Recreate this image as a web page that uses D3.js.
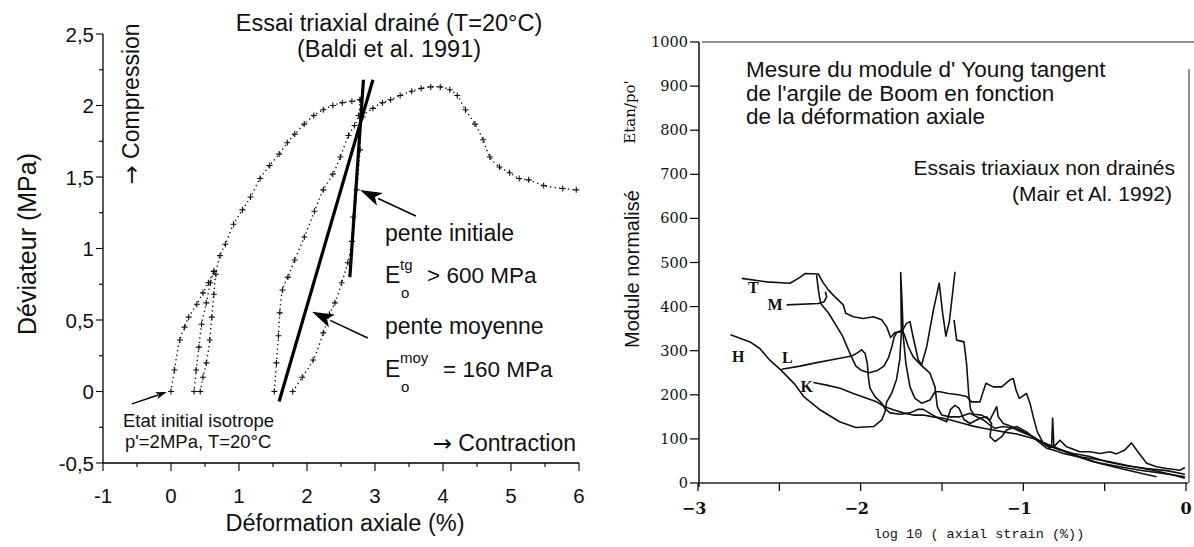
<!DOCTYPE html>
<html><head><meta charset="utf-8">
<script src="https://cdn.jsdelivr.net/npm/d3@7"></script>
<style>body{margin:0;background:#fff}svg{display:block}</style>
</head><body>
<svg id="c" width="1194" height="547"></svg>
<script>
// ================= LEFT PANEL DATA (déformation axiale %, déviateur MPa) =================
const leftXTicks = [-1, 0, 1, 2, 3, 4, 5, 6];
const leftYTicks = [-0.5, 0, 0.5, 1, 1.5, 2, 2.5];
const leftYTickLabels = ["-0,5", "0", "0,5", "1", "1,5", "2", "2,5"];
const loadA = [[0,0],[0.05,0.15],[0.13,0.36],[0.2,0.45],[0.26,0.52],[0.38,0.61],[0.47,0.69],[0.55,0.76],[0.63,0.84]];
const unloadA = [[0.63,0.84],[0.58,0.76],[0.52,0.62],[0.45,0.47],[0.41,0.31],[0.37,0.15],[0.34,0]];
const reloadA = [[0.43,0],[0.47,0.1],[0.52,0.2],[0.57,0.36],[0.6,0.52],[0.63,0.68],[0.66,0.82],[0.72,0.95],[0.8,1.03],[0.92,1.17],[1.05,1.27],[1.17,1.36],[1.31,1.49],[1.45,1.58],[1.59,1.66],[1.71,1.74],[1.82,1.8],[1.96,1.87],[2.1,1.93],[2.24,1.97],[2.38,2.0],[2.52,2.02],[2.66,2.03],[2.78,2.04]];
const unloadB = [[2.78,2.04],[2.76,1.93],[2.7,1.86],[2.61,1.79],[2.49,1.64],[2.38,1.52],[2.24,1.41],[2.11,1.26],[1.96,1.08],[1.82,0.92],[1.72,0.8],[1.64,0.71],[1.6,0.55],[1.58,0.39],[1.55,0.2],[1.52,0]];
const reloadB = [[1.79,0],[1.93,0.1],[2.09,0.22],[2.24,0.41],[2.33,0.54],[2.41,0.62],[2.51,0.76],[2.6,0.9],[2.66,1.05],[2.68,1.22],[2.73,1.41],[2.78,1.69],[2.82,1.92],[2.97,1.98],[3.11,2.02],[3.23,2.04],[3.37,2.07],[3.54,2.1],[3.68,2.12],[3.82,2.13],[3.96,2.13],[4.1,2.11],[4.21,2.07],[4.33,1.97],[4.47,1.87],[4.59,1.76],[4.69,1.64],[4.83,1.57],[4.98,1.53],[5.12,1.49],[5.26,1.48],[5.48,1.44],[5.76,1.42],[5.96,1.41]];
const slopeMoy = [[1.59,-0.07],[2.97,2.18]];
const slopeInit = [[2.63,0.80],[2.83,2.18]];
// arrows [tail, head] in data units
const arrowInit = [[3.60,1.227],[2.78,1.409]];
const arrowMoy = [[2.894,0.374],[2.074,0.557]];
const arrowEtat = [[-0.574,-0.087],[-0.063,-0.004]];

// ================= RIGHT PANEL DATA (log10 axial strain, Etan/p0') =================
const rightXTicks = [-3, -2, -1, 0];
const rightXMinor = [-2.5, -1.5, -0.5];
const rightYTicks = [0,100,200,300,400,500,600,700,800,900,1000];
const curveH = [[-2.80,336],[-2.68,320],[-2.62,305],[-2.56,279],[-2.49,256],[-2.41,226],[-2.35,196],[-2.25,166],[-2.13,139],[-2.03,126],[-1.92,128],[-1.87,143],[-1.85,162],[-1.84,184],[-1.81,203],[-1.78,234],[-1.76,279],[-1.75,339],[-1.752,415],[-1.754,477],[-1.746,415],[-1.738,332],[-1.722,271],[-1.697,218],[-1.666,192],[-1.625,181],[-1.574,188],[-1.543,207],[-1.512,207],[-1.461,203],[-1.400,200],[-1.349,196],[-1.318,184],[-1.267,184],[-1.230,226],[-1.185,218],[-1.133,218],[-1.082,234],[-1.062,237],[-1.045,211],[-1.025,192],[-0.980,203],[-0.959,181],[-0.939,150],[-0.914,116],[-0.877,90],[-0.836,79],[-0.826,82],[-0.820,147],[-0.812,82],[-0.775,97],[-0.734,82],[-0.652,71],[-0.591,71],[-0.529,67],[-0.468,71],[-0.427,66],[-0.376,75],[-0.335,91],[-0.304,75],[-0.242,45],[-0.181,37],[-0.119,33],[-0.037,29],[-0.007,35]];
const curveT = [[-2.731,464],[-2.578,456],[-2.435,453],[-2.383,464],[-2.342,475],[-2.260,474],[-2.234,456],[-2.199,438],[-2.158,422],[-2.107,404],[-2.092,385],[-2.045,377],[-1.984,373],[-1.922,377],[-1.871,370],[-1.840,354],[-1.816,330],[-1.789,341],[-1.748,343],[-1.718,362],[-1.697,366],[-1.677,330],[-1.646,279],[-1.625,268],[-1.594,309],[-1.553,392],[-1.517,453],[-1.496,385],[-1.476,333],[-1.455,366],[-1.435,430],[-1.420,479]];
const curveR = [[-1.426,370],[-1.410,324],[-1.365,320],[-1.349,271],[-1.336,203],[-1.324,166],[-1.304,156],[-1.256,154],[-1.205,143],[-1.174,166],[-1.164,173],[-1.154,150],[-1.123,135],[-1.072,128],[-1.021,120],[-0.959,109],[-0.898,94],[-0.816,82],[-0.734,71],[-0.631,56],[-0.529,45],[-0.406,37],[-0.283,29],[-0.160,23],[-0.007,14]];
const curveM = [[-2.455,404],[-2.260,407],[-2.225,411],[-2.209,422],[-2.217,434]];
const curveN = [[-2.271,472],[-2.260,438],[-2.246,407],[-2.199,386],[-2.152,358],[-2.111,333],[-2.086,311],[-2.055,285],[-2.029,265],[-1.994,255],[-1.947,250],[-1.898,255],[-1.857,265],[-1.828,285],[-1.808,309],[-1.795,330],[-1.779,341],[-1.758,345],[-1.734,339],[-1.707,309],[-1.677,286],[-1.631,268],[-1.574,249],[-1.543,218],[-1.529,173],[-1.502,154],[-1.451,150],[-1.390,150],[-1.328,158],[-1.287,150],[-1.246,143],[-1.205,131],[-1.174,124],[-1.123,128],[-1.062,124],[-1.000,114],[-0.939,105],[-0.857,86],[-0.775,75],[-0.693,67],[-0.591,60],[-0.488,48],[-0.365,39],[-0.242,33],[-0.119,28],[-0.007,20]];
const curveL = [[-2.486,258],[-2.373,265],[-2.270,273],[-2.168,280],[-2.055,288],[-2.025,294],[-1.994,302],[-1.973,294],[-1.959,271],[-1.953,241],[-1.943,215],[-1.912,196],[-1.871,181],[-1.851,169],[-1.820,159],[-1.758,156],[-1.697,159],[-1.646,167],[-1.615,167],[-1.574,158],[-1.523,147],[-1.471,139],[-1.447,167],[-1.420,176],[-1.394,169],[-1.365,144],[-1.328,135],[-1.267,147],[-1.226,150],[-1.195,135],[-1.205,105],[-1.174,94],[-1.133,105],[-1.103,120],[-1.041,128],[-0.980,116],[-0.918,97],[-0.857,79],[-0.816,75],[-0.754,67],[-0.672,60],[-0.591,56],[-0.468,48],[-0.324,37],[-0.201,29],[-0.078,18],[-0.007,11]];
const curveK = [[-2.291,228],[-2.209,222],[-2.127,215],[-2.045,203],[-1.963,192],[-1.902,184],[-1.851,173],[-1.799,166],[-1.738,159],[-1.677,154],[-1.615,154],[-1.553,150],[-1.492,147],[-1.430,141],[-1.369,135],[-1.308,129],[-1.246,124],[-1.185,120],[-1.123,116],[-1.041,111],[-0.939,101],[-0.816,82],[-0.693,63],[-0.570,48],[-0.447,37],[-0.324,26],[-0.181,14]];
const curveLabels = [["T",-2.66,444],["M",-2.527,404],["H",-2.752,286],["L",-2.451,285],["K",-2.332,218]];

// ================= DRAWING =================
const svg = d3.select("#c");
const SANS = "'Liberation Sans', Arial, sans-serif";
const SERIF = "'DejaVu Serif', serif";
const ARROWFONT = "'DejaVu Sans', sans-serif";

// ---- left panel ----
const lx = d3.scaleLinear().domain([-1, 6]).range([103, 579]);
const ly = d3.scaleLinear().domain([-0.5, 2.5]).range([463, 34]);
const L = svg.append("g");

L.append("line").attr("x1", lx(-1)).attr("x2", lx(-1)).attr("y1", ly(2.5)).attr("y2", ly(-0.5)).attr("stroke","#000").attr("stroke-width",1.3);
L.append("line").attr("x1", lx(-1)).attr("x2", lx(6)).attr("y1", ly(-0.5)).attr("y2", ly(-0.5)).attr("stroke","#000").attr("stroke-width",1.3);
d3.range(-0.5, 2.51, 0.25).forEach(v => {
  const major = Math.abs(v*2 - Math.round(v*2)) < 1e-6;
  L.append("line").attr("x1", lx(-1)).attr("x2", lx(-1) - (major ? 7 : 4)).attr("y1", ly(v)).attr("y2", ly(v)).attr("stroke","#000").attr("stroke-width",1.1);
});
leftYTicks.forEach((v,i) => {
  L.append("text").attr("x", lx(-1) - 9).attr("y", ly(v)).attr("text-anchor","end").attr("dominant-baseline","central")
   .attr("font-family", SANS).attr("font-size", 20.5).attr("fill","#111").text(leftYTickLabels[i]);
});
d3.range(-1, 6.01, 0.5).forEach(v => {
  const major = Math.abs(v - Math.round(v)) < 1e-6;
  L.append("line").attr("x1", lx(v)).attr("x2", lx(v)).attr("y1", ly(-0.5)).attr("y2", ly(-0.5) + (major ? 8 : 4)).attr("stroke","#000").attr("stroke-width",1.1);
});
leftXTicks.forEach(v => {
  L.append("text").attr("x", lx(v)).attr("y", 495).attr("text-anchor","middle").attr("dominant-baseline","central")
   .attr("font-family", SANS).attr("font-size", 20.5).attr("fill","#111").text(v);
});

const lline = d3.line().x(d => lx(d[0])).y(d => ly(d[1])).curve(d3.curveCatmullRom.alpha(0.5));
[loadA, unloadA, reloadA, unloadB, reloadB].forEach(seg => {
  L.append("path").attr("d", lline(seg)).attr("fill","none").attr("stroke","#111").attr("stroke-width",1.4).attr("stroke-dasharray","1.3,3.2");
  L.selectAll(null).data(seg).enter().append("path")
   .attr("d", d => `M${lx(d[0])-3},${ly(d[1])}h6M${lx(d[0])},${ly(d[1])-3}v6`)
   .attr("stroke","#111").attr("stroke-width",1.1);
});
[slopeMoy, slopeInit].forEach(s => {
  L.append("line").attr("x1", lx(s[0][0])).attr("y1", ly(s[0][1])).attr("x2", lx(s[1][0])).attr("y2", ly(s[1][1]))
   .attr("stroke","#000").attr("stroke-width",3.2);
});
function arrow(g, a, headLen, headW, sw) {
  const x1 = lx(a[0][0]), y1 = ly(a[0][1]), x2 = lx(a[1][0]), y2 = ly(a[1][1]);
  const ang = Math.atan2(y2 - y1, x2 - x1);
  const bx = x2 - headLen*Math.cos(ang), by = y2 - headLen*Math.sin(ang);
  g.append("line").attr("x1", x1).attr("y1", y1).attr("x2", bx + 2*Math.cos(ang)).attr("y2", by + 2*Math.sin(ang)).attr("stroke","#000").attr("stroke-width",sw);
  const px = -Math.sin(ang), py = Math.cos(ang);
  const bx2 = x2 - headLen*0.75*Math.cos(ang), by2 = y2 - headLen*0.75*Math.sin(ang);
  g.append("path").attr("d", `M${x2},${y2}L${bx+px*headW},${by+py*headW}L${bx2},${by2}L${bx-px*headW},${by-py*headW}Z`).attr("fill","#000");
}
arrow(L, arrowInit, 22, 7, 1.5);
arrow(L, arrowMoy, 22, 7, 1.5);
arrow(L, arrowEtat, 11, 3.5, 1.4);

function txt(g, x, y, s, size, anchor, fam) {
  return g.append("text").attr("x", x).attr("y", y).attr("text-anchor", anchor || "start").attr("dominant-baseline","central")
   .attr("font-family", fam || SANS).attr("font-size", size).attr("fill","#111").text(s);
}
function arrowTxt(g, x, y, s, size, anchor) {
  const t = g.append("text").attr("x", x).attr("y", y).attr("text-anchor", anchor || "start").attr("dominant-baseline","central")
   .attr("font-family", SANS).attr("font-size", size).attr("fill","#111");
  t.append("tspan").attr("font-family", ARROWFONT).text("→");
  t.append("tspan").text(" " + s);
  return t;
}
txt(L, 389, 23, "Essai triaxial drainé (T=20°C)", 23.5, "middle");
txt(L, 389, 49, "(Baldi et al. 1991)", 23.5, "middle");
txt(L, 385, 233, "pente initiale", 23);
txt(L, 385, 275, "E", 23);
txt(L, 401, 292, "o", 15);
txt(L, 400, 264, "tg", 15);
txt(L, 427, 275, "> 600 MPa", 22.5);
txt(L, 385, 326, "pente moyenne", 23);
txt(L, 385, 369, "E", 23);
txt(L, 401, 386, "o", 15);
txt(L, 400, 357, "moy", 15);
txt(L, 443, 369, "= 160 MPa", 22.5);
txt(L, 123, 420, "Etat initial isotrope", 18.5);
txt(L, 125, 441, "p'=2MPa, T=20°C", 18.5);
arrowTxt(L, 576, 443, "Contraction", 23, "end");
txt(L, 345, 523, "Déformation axiale (%)", 23.5, "middle");
txt(L, 0, 0, "Déviateur (MPa)", 25, "middle").attr("transform", "translate(27,244) rotate(-90)");
arrowTxt(L, 0, 0, "Compression", 23, "middle").attr("transform", "translate(131,104) rotate(-90)");

// ---- right panel ----
const rx = d3.scaleLinear().domain([-3, 0]).range([698, 1186]);
const ry = d3.scaleLinear().domain([0, 1000]).range([483, 42]);
const R = svg.append("g");
R.append("line").attr("x1", rx(-3)+1).attr("x2", rx(-3)+1).attr("y1", ry(1000)).attr("y2", ry(0)+4).attr("stroke","#000").attr("stroke-width",1.4);
R.append("line").attr("x1", rx(-3)).attr("x2", rx(0)+2).attr("y1", ry(0)).attr("y2", ry(0)).attr("stroke","#222").attr("stroke-width",1.3);
R.append("line").attr("x1", rx(-3)+4).attr("x2", 1194).attr("y1", ry(1000)).attr("y2", ry(1000)).attr("stroke","#222").attr("stroke-width",1.2);
R.append("line").attr("x1", rx(0)+3).attr("x2", rx(0)+3).attr("y1", 69).attr("y2", ry(0)).attr("stroke","#333").attr("stroke-width",1.1);
rightYTicks.forEach(v => {
  R.append("line").attr("x1", rx(-3)+1).attr("x2", rx(-3)-8).attr("y1", ry(v)).attr("y2", ry(v)).attr("stroke","#000").attr("stroke-width",1.2);
  R.append("text").attr("x", 688).attr("y", ry(v)).attr("text-anchor","end").attr("dominant-baseline","central")
   .attr("font-family", SERIF).attr("font-size", 14.5).attr("fill","#111").text(v);
});
rightXTicks.concat(rightXMinor).forEach(v => {
  R.append("line").attr("x1", rx(v)).attr("x2", rx(v)).attr("y1", ry(0)).attr("y2", ry(0)+8).attr("stroke","#000").attr("stroke-width",1.2);
});
rightXTicks.forEach(v => {
  R.append("text").attr("x", rx(v) + (v<0 ? -4 : 0)).attr("y", 508).attr("text-anchor","middle").attr("dominant-baseline","central")
   .attr("font-family", SERIF).attr("font-weight","bold").attr("font-size", 16).attr("fill","#111").text(v < 0 ? "−" + Math.abs(v) : v);
});
const rline = d3.line().x(d => rx(d[0])).y(d => ry(d[1]));
[curveH, curveT, curveR, curveM, curveN, curveL, curveK].forEach(c => {
  R.append("path").attr("d", rline(c)).attr("fill","none").attr("stroke","#111").attr("stroke-width",1.6).attr("stroke-linejoin","round");
});
curveLabels.forEach(l => {
  R.append("text").attr("x", rx(l[1])).attr("y", ry(l[2])).attr("text-anchor","middle").attr("dominant-baseline","central")
   .attr("font-family", "'Liberation Serif', serif").attr("font-weight","bold").attr("font-size", 16).attr("fill","#111").text(l[0]);
});
txt(R, 746, 69, "Mesure du module d' Young tangent", 22.5);
txt(R, 746, 93, "de l'argile de Boom en fonction", 22.5);
txt(R, 746, 116, "de la déformation axiale", 22.5);
txt(R, 1175, 167, "Essais triaxiaux non drainés", 21, "end");
txt(R, 1172, 193, "(Mair et Al. 1992)", 21, "end");
txt(R, 0, 0, "Module normalisé", 20, "middle").attr("transform", "translate(632,269) rotate(-90)");
txt(R, 0, 0, "Etan/po'", 15, "middle", SERIF).attr("transform", "translate(630,112) rotate(-90)");
txt(R, 979, 534, "log 10 ( axial strain (%))", 13.5, "middle", "'Liberation Mono', monospace");
</script>
</body></html>
